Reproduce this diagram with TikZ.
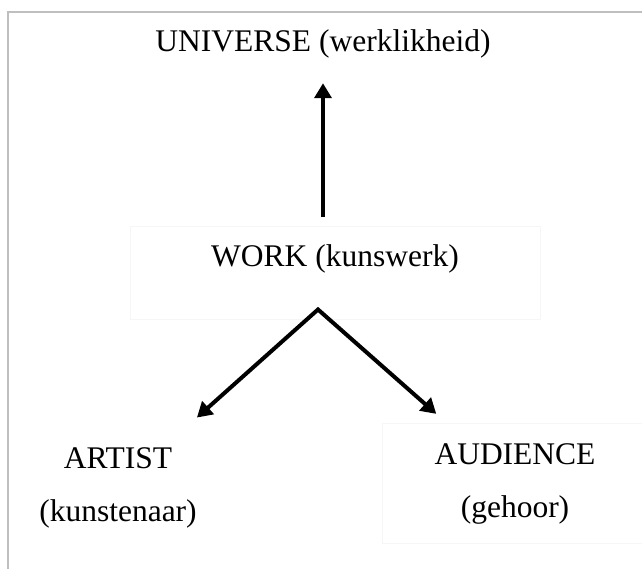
\documentclass[tikz,border=0pt]{standalone}
\usepackage{fontspec}
\setmainfont{Liberation Serif}
\usepackage{tikz}
\usetikzlibrary{positioning, arrows.meta}

\begin{document}
\begin{tikzpicture}[x=1pt, y=-1pt,
        txt/.style={font=\fontsize{31.5}{53}\selectfont, align=center},
        faint/.style={draw=gray!7, line width=1pt},
        arrow/.style={line width=4pt, -{Triangle[length=15pt, width=17pt]}},
        twoarrow/.style={line width=4pt, line join=miter, {Triangle[length=15pt, width=17pt]}-{Triangle[length=15pt, width=17pt]}}]
            \useasboundingbox (0, 0) rectangle (642, 569);
            \draw[gray!50, line width=1.5pt] (8, 575) -- (8, 12) -- (650, 12);

            \node[txt, anchor=base] (universe) at (323, 52) {UNIVERSE (werklikheid)};
            \node[txt, faint, anchor=base, inner sep=0pt, text height=39pt, text depth=53pt, minimum width=410pt] (work) at (335, 266) {WORK (kunswerk)};
            \node[txt] (artist) at (118, 488) {ARTIST\\(kunstenaar)};
            \node[txt, minimum width=264pt, minimum height=119pt] (audience) at (515, 483.5) {AUDIENCE\\(gehoor)};
            \draw[faint] (audience.north west) rectangle ([xshift=20pt]audience.south east);

            \coordinate (apex) at ([xshift=-17pt, yshift=10pt]work.south);

            \draw[arrow, shorten <=9pt, shorten >=21pt] (work.north -| universe) -- (universe);
            \draw[twoarrow, shorten <=40pt, shorten >=15pt] (artist) -- (apex) -- (audience);
        \end{tikzpicture}
\end{document}
